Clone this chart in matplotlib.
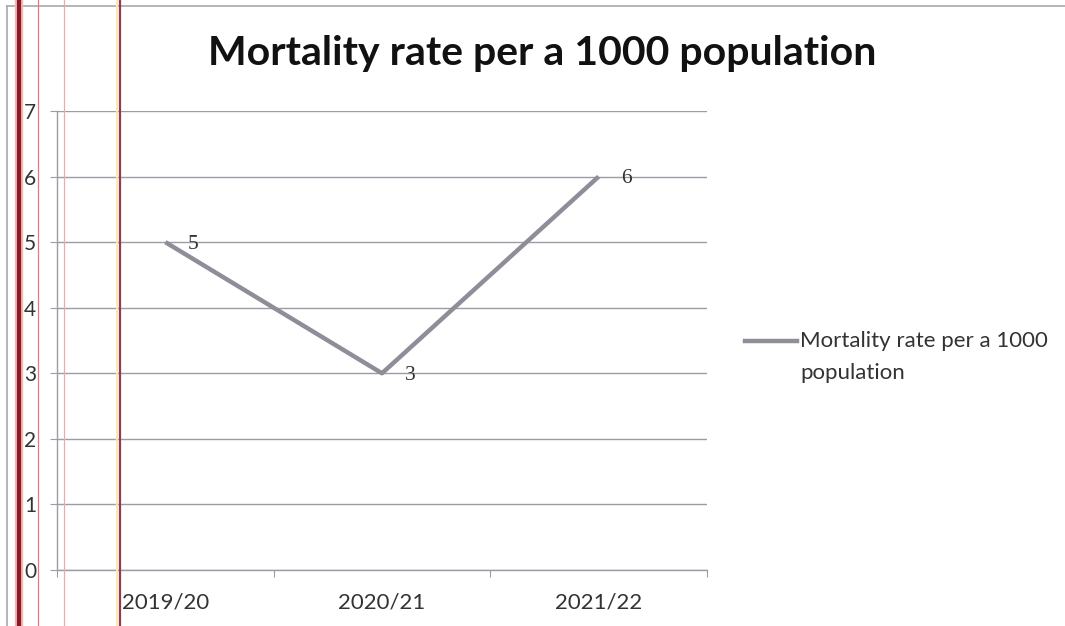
import matplotlib
matplotlib.use("Agg")
import matplotlib.pyplot as plt
from matplotlib.lines import Line2D

# data
years = ["2019/20", "2020/21", "2021/22"]
rate = [5, 3, 6]
legend_lines = ["Mortality rate per a 1000", "population"]
title = "Mortality rate per a 1000 population"

W, H = 1065, 626
fig = plt.figure(figsize=(W / 100, H / 100), dpi=100)
fig.patch.set_facecolor("white")

def fx(px):
    return px / W

def fy(py):
    return 1 - py / H

# chart frame (scanned page)
fig.add_artist(Line2D([fx(7), 1], [fy(6), fy(6)], color="#a8a8b0", lw=1.2))
fig.add_artist(Line2D([fx(7), fx(7)], [fy(6), 0], color="#a8a8b0", lw=1.2))

ax = fig.add_axes([fx(57), fy(570), fx(707) - fx(57), fy(111) - fy(570)])
x = list(range(len(years)))

grid_col = "#9c9ca6"
line_col = "#8e8e98"
txt_col = "#333333"

ax.plot(x, rate, color=line_col, lw=3.2, solid_capstyle="butt", zorder=3)
for xi, v in zip(x, rate):
    ax.annotate(str(v), (xi, v), xytext=(20, -1.5), textcoords="offset points",
                ha="center", va="center", fontsize=15.5,
                family="Liberation Serif", color=txt_col)

ax.set_xlim(-0.5, 2.5)
ax.set_ylim(0, 7)
ax.set_yticks(range(0, 8))
ax.yaxis.grid(True, color=grid_col, lw=1.0)
ax.set_axisbelow(True)
ax.tick_params(axis="y", length=5, color=grid_col, pad=10, labelsize=15,
               labelcolor=txt_col)
for t in ax.get_yticklabels():
    t.set_family("Lato")

ax.set_xticks([-0.5, 0.5, 1.5, 2.5])
ax.set_xticklabels([])
ax.set_xticks(x, minor=True)
ax.set_xticklabels(years, minor=True, family="Lato", fontsize=16,
                   color=txt_col)
ax.tick_params(axis="x", which="major", length=5, color=grid_col)
ax.tick_params(axis="x", which="minor", length=0, pad=16)

for s in ["top", "right"]:
    ax.spines[s].set_visible(False)
for s in ["left", "bottom"]:
    ax.spines[s].set_color(grid_col)
    ax.spines[s].set_linewidth(1.0)

fig.text(fx(542), fy(53), title, ha="center", va="center", fontsize=29.5,
         fontweight="bold", family="Lato", color="#111111")

# legend (handle sits on the first text line, as in Excel)
fig.add_artist(Line2D([fx(745), fx(797)], [fy(341), fy(341)],
                      color=line_col, lw=3.2))
fig.text(fx(800), fy(341), legend_lines[0], ha="left", va="center",
         fontsize=16, family="Lato", color=txt_col)
fig.text(fx(800), fy(373), legend_lines[1], ha="left", va="center",
         fontsize=16, family="Lato", color=txt_col)

# red margin lines from the scan
fig.add_artist(Line2D([fx(19), fx(19)], [0, 1], color="#f2b8b0", lw=6))
fig.add_artist(Line2D([fx(19), fx(19)], [0, 1], color="#8a1828", lw=3.0))
fig.add_artist(Line2D([fx(38), fx(38)], [0, 1], color="#e87878", lw=0.9))
fig.add_artist(Line2D([fx(64), fx(64)], [0, 1], color="#f0a8a8", lw=0.9))
fig.add_artist(Line2D([fx(117), fx(117)], [0, 1], color="#f8e8b8", lw=1.5))
fig.add_artist(Line2D([fx(120), fx(120)], [0, 1], color="#9a3848", lw=1.6))

fig.savefig("out.png", dpi=100)
